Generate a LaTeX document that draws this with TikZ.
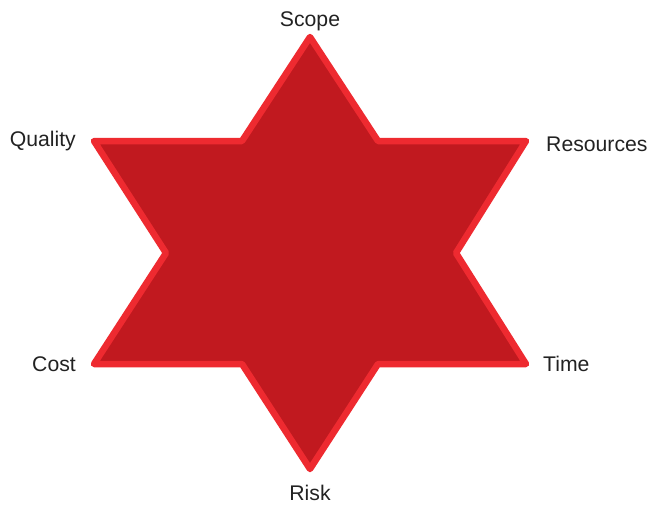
\documentclass[tikz,border=0pt]{standalone}
\usepackage{fontspec}
\setmainfont{Liberation Sans}
\definecolor{starfill}{HTML}{C1191F}
\definecolor{starline}{HTML}{EE2A30}
\definecolor{labeltext}{HTML}{222222}
\begin{document}
\begin{tikzpicture}[x=1pt,y=-1pt,
  lbl/.style={text=labeltext,font=\fontsize{21.2}{25}\selectfont,inner sep=0pt}]
\useasboundingbox (0,0) rectangle (648,504);
\draw[fill=starfill,draw=starline,line width=6.5pt,line join=round]
  (310,37) -- (378,141) -- (526,141) -- (456,253) -- (526,364) -- (378,364)
  -- (310,469) -- (242,364) -- (94,364) -- (166,253) -- (94,141) -- (242,141) -- cycle;
\node[lbl,anchor=base] (scope) at (310,26) {Scope};
\node[lbl,anchor=base east] (quality) at (76,146) {Quality};
\node[lbl,anchor=base west] (resources) at (546,151) {Resources};
\node[lbl,anchor=base east] (cost) at (76,371) {Cost};
\node[lbl,anchor=base west] (time) at (543,371) {Time};
\node[lbl,anchor=base] (risk) at (310,500) {Risk};
\end{tikzpicture}
\end{document}
